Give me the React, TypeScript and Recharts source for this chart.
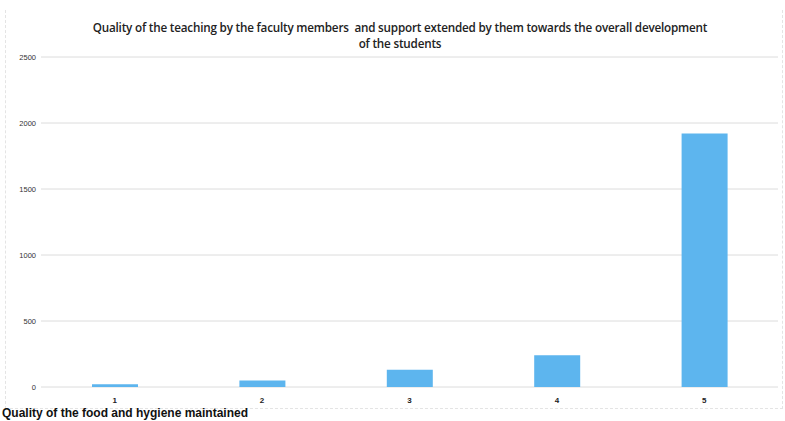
import { BarChart, Bar, XAxis, YAxis, CartesianGrid } from 'recharts';

const ratings = ['1', '2', '3', '4', '5'];
const responses = [20, 50, 130, 240, 1920];
const yTicks = [0, 500, 1000, 1500, 2000, 2500];

const data = ratings.map((r, i) => ({ rating: r, count: responses[i] }));

export default function App() {
  return (
    <div style={{ position: 'absolute', left: 0, top: 0, width: 785, height: 421, overflow: 'hidden', background: '#fff' }}>
      <div style={{ position: 'absolute', left: 5, top: 10, width: 776, height: 398, border: '1px dashed #e4e4e4', borderTop: 'none' }} />
      <div
        style={{
          position: 'absolute',
          top: 19,
          left: 0,
          width: 800,
          textAlign: 'center',
          fontFamily: '"Open Sans", sans-serif',
          fontWeight: 600,
          fontSize: 11.7,
          lineHeight: '16px',
          color: '#222',
          letterSpacing: -0.2,
        }}
      >
        Quality of the teaching by the faculty members&nbsp; and support extended by them towards the overall development
        <br />
        of the students
      </div>
      <BarChart width={785} height={421} data={data} margin={{ top: 57, right: 7, bottom: 4, left: 0 }}>
        <CartesianGrid vertical={false} stroke="#dcdcdc" />
        <XAxis
          dataKey="rating"
          height={30}
          axisLine={false}
          tickLine={false}
          tick={{ fontSize: 8, fontWeight: 700, fill: '#222', fontFamily: 'Arial, sans-serif' }}
          tickMargin={4}
        />
        <YAxis
          width={41}
          domain={[0, 2500]}
          ticks={yTicks}
          axisLine={false}
          tickLine={false}
          tickSize={3}
          tick={{ fontSize: 7.5, fill: '#333', fontFamily: 'Arial, sans-serif' }}
        />
        <Bar dataKey="count" fill="#5db5ee" barSize={46} isAnimationActive={false} />
      </BarChart>
      <div
        style={{
          position: 'absolute',
          top: 406,
          left: 2,
          fontFamily: 'Arial, sans-serif',
          fontWeight: 700,
          fontSize: 12,
          lineHeight: '14px',
          color: '#111',
          whiteSpace: 'nowrap',
        }}
      >
        Quality of the food and hygiene maintained
      </div>
    </div>
  );
}
